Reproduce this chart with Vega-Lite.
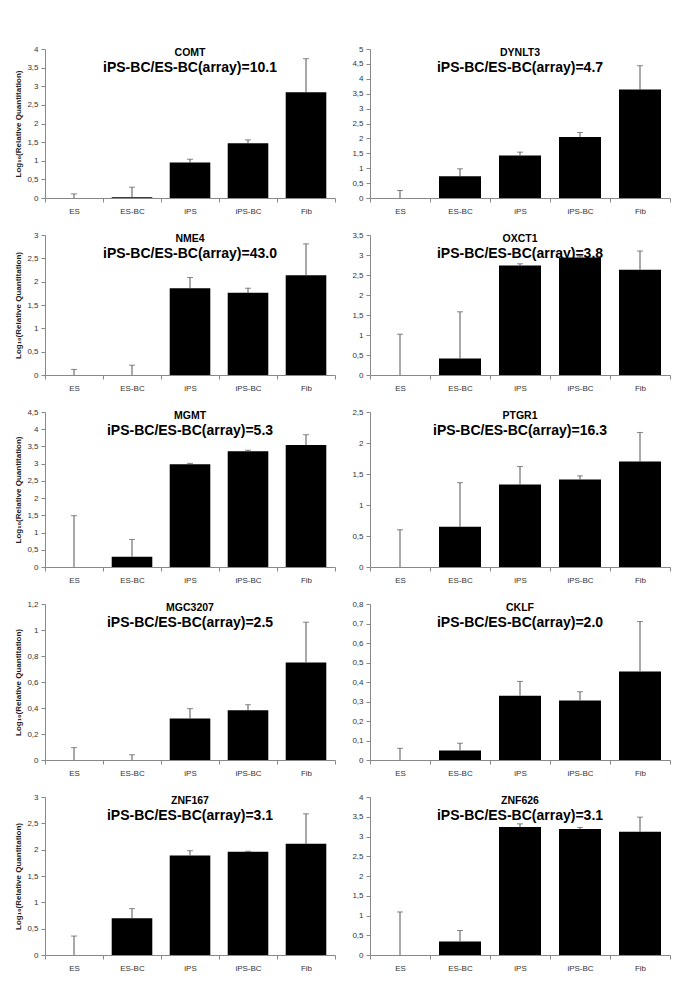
{
  "$schema": "https://vega.github.io/schema/vega-lite/v6.json",
  "padding": {"left": 14, "top": 45, "right": 5, "bottom": 5},
  "background": "white",
  "datasets": {
    "d": [
      {"gene": "COMT", "group": "ES", "value": 0, "upper": 0.11},
      {"gene": "COMT", "group": "ES-BC", "value": 0.02, "upper": 0.29},
      {"gene": "COMT", "group": "iPS", "value": 0.95, "upper": 1.04},
      {"gene": "COMT", "group": "iPS-BC", "value": 1.47, "upper": 1.56},
      {"gene": "COMT", "group": "Fib", "value": 2.84, "upper": 3.74},
      {"gene": "DYNLT3", "group": "ES", "value": 0, "upper": 0.25},
      {"gene": "DYNLT3", "group": "ES-BC", "value": 0.73, "upper": 0.98},
      {"gene": "DYNLT3", "group": "iPS", "value": 1.43, "upper": 1.54},
      {"gene": "DYNLT3", "group": "iPS-BC", "value": 2.05, "upper": 2.2},
      {"gene": "DYNLT3", "group": "Fib", "value": 3.64, "upper": 4.44},
      {"gene": "NME4", "group": "ES", "value": 0, "upper": 0.12},
      {"gene": "NME4", "group": "ES-BC", "value": 0, "upper": 0.21},
      {"gene": "NME4", "group": "iPS", "value": 1.86, "upper": 2.09},
      {"gene": "NME4", "group": "iPS-BC", "value": 1.76, "upper": 1.86},
      {"gene": "NME4", "group": "Fib", "value": 2.14, "upper": 2.81},
      {"gene": "OXCT1", "group": "ES", "value": 0, "upper": 1.02},
      {"gene": "OXCT1", "group": "ES-BC", "value": 0.41, "upper": 1.58},
      {"gene": "OXCT1", "group": "iPS", "value": 2.74, "upper": 2.78},
      {"gene": "OXCT1", "group": "iPS-BC", "value": 2.94, "upper": 2.97},
      {"gene": "OXCT1", "group": "Fib", "value": 2.63, "upper": 3.1},
      {"gene": "MGMT", "group": "ES", "value": 0, "upper": 1.49},
      {"gene": "MGMT", "group": "ES-BC", "value": 0.3, "upper": 0.8},
      {"gene": "MGMT", "group": "iPS", "value": 2.98, "upper": 3.01},
      {"gene": "MGMT", "group": "iPS-BC", "value": 3.36, "upper": 3.39},
      {"gene": "MGMT", "group": "Fib", "value": 3.54, "upper": 3.84},
      {"gene": "PTGR1", "group": "ES", "value": 0, "upper": 0.6},
      {"gene": "PTGR1", "group": "ES-BC", "value": 0.65, "upper": 1.36},
      {"gene": "PTGR1", "group": "iPS", "value": 1.33, "upper": 1.62},
      {"gene": "PTGR1", "group": "iPS-BC", "value": 1.41, "upper": 1.47},
      {"gene": "PTGR1", "group": "Fib", "value": 1.7, "upper": 2.17},
      {"gene": "MGC3207", "group": "ES", "value": 0, "upper": 0.095},
      {"gene": "MGC3207", "group": "ES-BC", "value": 0, "upper": 0.04},
      {"gene": "MGC3207", "group": "iPS", "value": 0.32, "upper": 0.395},
      {"gene": "MGC3207", "group": "iPS-BC", "value": 0.383, "upper": 0.425},
      {"gene": "MGC3207", "group": "Fib", "value": 0.75, "upper": 1.06},
      {"gene": "CKLF", "group": "ES", "value": 0, "upper": 0.06},
      {"gene": "CKLF", "group": "ES-BC", "value": 0.049, "upper": 0.086},
      {"gene": "CKLF", "group": "iPS", "value": 0.33, "upper": 0.403},
      {"gene": "CKLF", "group": "iPS-BC", "value": 0.305, "upper": 0.35},
      {"gene": "CKLF", "group": "Fib", "value": 0.454, "upper": 0.71},
      {"gene": "ZNF167", "group": "ES", "value": 0, "upper": 0.36},
      {"gene": "ZNF167", "group": "ES-BC", "value": 0.7, "upper": 0.88},
      {"gene": "ZNF167", "group": "iPS", "value": 1.89, "upper": 1.98},
      {"gene": "ZNF167", "group": "iPS-BC", "value": 1.96, "upper": 1.97},
      {"gene": "ZNF167", "group": "Fib", "value": 2.11, "upper": 2.68},
      {"gene": "ZNF626", "group": "ES", "value": 0, "upper": 1.09},
      {"gene": "ZNF626", "group": "ES-BC", "value": 0.34, "upper": 0.62},
      {"gene": "ZNF626", "group": "iPS", "value": 3.24, "upper": 3.32},
      {"gene": "ZNF626", "group": "iPS-BC", "value": 3.19, "upper": 3.23},
      {"gene": "ZNF626", "group": "Fib", "value": 3.12, "upper": 3.49}
    ]
  },
  "vconcat": [
    {"hconcat": [
      {"width": 290, "height": 149, "title": {"text": "COMT", "subtitle": "iPS-BC/ES-BC(array)=10.1"},
       "data": {"name": "d"}, "transform": [{"filter": "datum.gene === 'COMT'"}],
       "encoding": {
         "x": {"field": "group", "type": "nominal", "sort": ["ES","ES-BC","iPS","iPS-BC","Fib"], "scale": {"paddingInner": 0, "paddingOuter": 0}, "axis": {"title": null, "tickBand": "extent", "labelAngle": 0}},
         "y": {"field": "value", "type": "quantitative", "title": "Log₁₀(Relative Quantitation)", "scale": {"domain": [0, 4], "nice": false}, "axis": {"values": [0,0.5,1,1.5,2,2.5,3,3.5,4], "labelOverlap": false, "labelExpr": "replace(format(datum.value,'~g'),'.',',')"}}
       },
       "layer": [
         {"mark": {"type": "bar", "color": "black", "width": {"band": 0.7}}},
         {"mark": {"type": "rule", "color": "#555"}, "encoding": {"y2": {"field": "upper"}}},
         {"mark": {"type": "tick", "color": "#555", "size": 6, "thickness": 1}, "encoding": {"y": {"field": "upper", "type": "quantitative", "title": "Log₁₀(Relative Quantitation)", "axis": {"values": [0,0.5,1,1.5,2,2.5,3,3.5,4], "labelOverlap": false, "labelExpr": "replace(format(datum.value,'~g'),'.',',')"}}}}
       ]},
      {"width": 300, "height": 149, "title": {"text": "DYNLT3", "subtitle": "iPS-BC/ES-BC(array)=4.7"},
       "data": {"name": "d"}, "transform": [{"filter": "datum.gene === 'DYNLT3'"}],
       "encoding": {
         "x": {"field": "group", "type": "nominal", "sort": ["ES","ES-BC","iPS","iPS-BC","Fib"], "scale": {"paddingInner": 0, "paddingOuter": 0}, "axis": {"title": null, "tickBand": "extent", "labelAngle": 0}},
         "y": {"field": "value", "type": "quantitative", "title": null, "scale": {"domain": [0, 5], "nice": false}, "axis": {"values": [0,0.5,1,1.5,2,2.5,3,3.5,4,4.5,5], "labelOverlap": false, "labelExpr": "replace(format(datum.value,'~g'),'.',',')"}}
       },
       "layer": [
         {"mark": {"type": "bar", "color": "black", "width": {"band": 0.7}}},
         {"mark": {"type": "rule", "color": "#555"}, "encoding": {"y2": {"field": "upper"}}},
         {"mark": {"type": "tick", "color": "#555", "size": 6, "thickness": 1}, "encoding": {"y": {"field": "upper", "type": "quantitative", "title": null, "axis": {"values": [0,0.5,1,1.5,2,2.5,3,3.5,4,4.5,5], "labelOverlap": false, "labelExpr": "replace(format(datum.value,'~g'),'.',',')"}}}}
       ]}
    ]},
    {"hconcat": [
      {"width": 290, "height": 140, "title": {"text": "NME4", "subtitle": "iPS-BC/ES-BC(array)=43.0"},
       "data": {"name": "d"}, "transform": [{"filter": "datum.gene === 'NME4'"}],
       "encoding": {
         "x": {"field": "group", "type": "nominal", "sort": ["ES","ES-BC","iPS","iPS-BC","Fib"], "scale": {"paddingInner": 0, "paddingOuter": 0}, "axis": {"title": null, "tickBand": "extent", "labelAngle": 0}},
         "y": {"field": "value", "type": "quantitative", "title": "Log₁₀(Relative Quantitation)", "scale": {"domain": [0, 3], "nice": false}, "axis": {"values": [0,0.5,1,1.5,2,2.5,3], "labelOverlap": false, "labelExpr": "replace(format(datum.value,'~g'),'.',',')"}}
       },
       "layer": [
         {"mark": {"type": "bar", "color": "black", "width": {"band": 0.7}}},
         {"mark": {"type": "rule", "color": "#555"}, "encoding": {"y2": {"field": "upper"}}},
         {"mark": {"type": "tick", "color": "#555", "size": 6, "thickness": 1}, "encoding": {"y": {"field": "upper", "type": "quantitative", "title": "Log₁₀(Relative Quantitation)", "axis": {"values": [0,0.5,1,1.5,2,2.5,3], "labelOverlap": false, "labelExpr": "replace(format(datum.value,'~g'),'.',',')"}}}}
       ]},
      {"width": 300, "height": 140, "title": {"text": "OXCT1", "subtitle": "iPS-BC/ES-BC(array)=3.8"},
       "data": {"name": "d"}, "transform": [{"filter": "datum.gene === 'OXCT1'"}],
       "encoding": {
         "x": {"field": "group", "type": "nominal", "sort": ["ES","ES-BC","iPS","iPS-BC","Fib"], "scale": {"paddingInner": 0, "paddingOuter": 0}, "axis": {"title": null, "tickBand": "extent", "labelAngle": 0}},
         "y": {"field": "value", "type": "quantitative", "title": null, "scale": {"domain": [0, 3.5], "nice": false}, "axis": {"values": [0,0.5,1,1.5,2,2.5,3,3.5], "labelOverlap": false, "labelExpr": "replace(format(datum.value,'~g'),'.',',')"}}
       },
       "layer": [
         {"mark": {"type": "bar", "color": "black", "width": {"band": 0.7}}},
         {"mark": {"type": "rule", "color": "#555"}, "encoding": {"y2": {"field": "upper"}}},
         {"mark": {"type": "tick", "color": "#555", "size": 6, "thickness": 1}, "encoding": {"y": {"field": "upper", "type": "quantitative", "title": null, "axis": {"values": [0,0.5,1,1.5,2,2.5,3,3.5], "labelOverlap": false, "labelExpr": "replace(format(datum.value,'~g'),'.',',')"}}}}
       ]}
    ]},
    {"hconcat": [
      {"width": 290, "height": 155, "title": {"text": "MGMT", "subtitle": "iPS-BC/ES-BC(array)=5.3"},
       "data": {"name": "d"}, "transform": [{"filter": "datum.gene === 'MGMT'"}],
       "encoding": {
         "x": {"field": "group", "type": "nominal", "sort": ["ES","ES-BC","iPS","iPS-BC","Fib"], "scale": {"paddingInner": 0, "paddingOuter": 0}, "axis": {"title": null, "tickBand": "extent", "labelAngle": 0}},
         "y": {"field": "value", "type": "quantitative", "title": "Log₁₀(Relative Quantitation)", "scale": {"domain": [0, 4.5], "nice": false}, "axis": {"values": [0,0.5,1,1.5,2,2.5,3,3.5,4,4.5], "labelOverlap": false, "labelExpr": "replace(format(datum.value,'~g'),'.',',')"}}
       },
       "layer": [
         {"mark": {"type": "bar", "color": "black", "width": {"band": 0.7}}},
         {"mark": {"type": "rule", "color": "#555"}, "encoding": {"y2": {"field": "upper"}}},
         {"mark": {"type": "tick", "color": "#555", "size": 6, "thickness": 1}, "encoding": {"y": {"field": "upper", "type": "quantitative", "title": "Log₁₀(Relative Quantitation)", "axis": {"values": [0,0.5,1,1.5,2,2.5,3,3.5,4,4.5], "labelOverlap": false, "labelExpr": "replace(format(datum.value,'~g'),'.',',')"}}}}
       ]},
      {"width": 300, "height": 155, "title": {"text": "PTGR1", "subtitle": "iPS-BC/ES-BC(array)=16.3"},
       "data": {"name": "d"}, "transform": [{"filter": "datum.gene === 'PTGR1'"}],
       "encoding": {
         "x": {"field": "group", "type": "nominal", "sort": ["ES","ES-BC","iPS","iPS-BC","Fib"], "scale": {"paddingInner": 0, "paddingOuter": 0}, "axis": {"title": null, "tickBand": "extent", "labelAngle": 0}},
         "y": {"field": "value", "type": "quantitative", "title": null, "scale": {"domain": [0, 2.5], "nice": false}, "axis": {"values": [0,0.5,1,1.5,2,2.5], "labelOverlap": false, "labelExpr": "replace(format(datum.value,'~g'),'.',',')"}}
       },
       "layer": [
         {"mark": {"type": "bar", "color": "black", "width": {"band": 0.7}}},
         {"mark": {"type": "rule", "color": "#555"}, "encoding": {"y2": {"field": "upper"}}},
         {"mark": {"type": "tick", "color": "#555", "size": 6, "thickness": 1}, "encoding": {"y": {"field": "upper", "type": "quantitative", "title": null, "axis": {"values": [0,0.5,1,1.5,2,2.5], "labelOverlap": false, "labelExpr": "replace(format(datum.value,'~g'),'.',',')"}}}}
       ]}
    ]},
    {"hconcat": [
      {"width": 290, "height": 156, "title": {"text": "MGC3207", "subtitle": "iPS-BC/ES-BC(array)=2.5"},
       "data": {"name": "d"}, "transform": [{"filter": "datum.gene === 'MGC3207'"}],
       "encoding": {
         "x": {"field": "group", "type": "nominal", "sort": ["ES","ES-BC","iPS","iPS-BC","Fib"], "scale": {"paddingInner": 0, "paddingOuter": 0}, "axis": {"title": null, "tickBand": "extent", "labelAngle": 0}},
         "y": {"field": "value", "type": "quantitative", "title": "Log₁₀(Relative Quantitation)", "scale": {"domain": [0, 1.2], "nice": false}, "axis": {"values": [0,0.2,0.4,0.6,0.8,1,1.2], "labelOverlap": false, "labelExpr": "replace(format(datum.value,'~g'),'.',',')"}}
       },
       "layer": [
         {"mark": {"type": "bar", "color": "black", "width": {"band": 0.7}}},
         {"mark": {"type": "rule", "color": "#555"}, "encoding": {"y2": {"field": "upper"}}},
         {"mark": {"type": "tick", "color": "#555", "size": 6, "thickness": 1}, "encoding": {"y": {"field": "upper", "type": "quantitative", "title": "Log₁₀(Relative Quantitation)", "axis": {"values": [0,0.2,0.4,0.6,0.8,1,1.2], "labelOverlap": false, "labelExpr": "replace(format(datum.value,'~g'),'.',',')"}}}}
       ]},
      {"width": 300, "height": 156, "title": {"text": "CKLF", "subtitle": "iPS-BC/ES-BC(array)=2.0"},
       "data": {"name": "d"}, "transform": [{"filter": "datum.gene === 'CKLF'"}],
       "encoding": {
         "x": {"field": "group", "type": "nominal", "sort": ["ES","ES-BC","iPS","iPS-BC","Fib"], "scale": {"paddingInner": 0, "paddingOuter": 0}, "axis": {"title": null, "tickBand": "extent", "labelAngle": 0}},
         "y": {"field": "value", "type": "quantitative", "title": null, "scale": {"domain": [0, 0.8], "nice": false}, "axis": {"values": [0,0.1,0.2,0.3,0.4,0.5,0.6,0.7,0.8], "labelOverlap": false, "labelExpr": "replace(format(datum.value,'~g'),'.',',')"}}
       },
       "layer": [
         {"mark": {"type": "bar", "color": "black", "width": {"band": 0.7}}},
         {"mark": {"type": "rule", "color": "#555"}, "encoding": {"y2": {"field": "upper"}}},
         {"mark": {"type": "tick", "color": "#555", "size": 6, "thickness": 1}, "encoding": {"y": {"field": "upper", "type": "quantitative", "title": null, "axis": {"values": [0,0.1,0.2,0.3,0.4,0.5,0.6,0.7,0.8], "labelOverlap": false, "labelExpr": "replace(format(datum.value,'~g'),'.',',')"}}}}
       ]}
    ]},
    {"hconcat": [
      {"width": 290, "height": 158, "title": {"text": "ZNF167", "subtitle": "iPS-BC/ES-BC(array)=3.1"},
       "data": {"name": "d"}, "transform": [{"filter": "datum.gene === 'ZNF167'"}],
       "encoding": {
         "x": {"field": "group", "type": "nominal", "sort": ["ES","ES-BC","iPS","iPS-BC","Fib"], "scale": {"paddingInner": 0, "paddingOuter": 0}, "axis": {"title": null, "tickBand": "extent", "labelAngle": 0}},
         "y": {"field": "value", "type": "quantitative", "title": "Log₁₀(Relative Quantitation)", "scale": {"domain": [0, 3], "nice": false}, "axis": {"values": [0,0.5,1,1.5,2,2.5,3], "labelOverlap": false, "labelExpr": "replace(format(datum.value,'~g'),'.',',')"}}
       },
       "layer": [
         {"mark": {"type": "bar", "color": "black", "width": {"band": 0.7}}},
         {"mark": {"type": "rule", "color": "#555"}, "encoding": {"y2": {"field": "upper"}}},
         {"mark": {"type": "tick", "color": "#555", "size": 6, "thickness": 1}, "encoding": {"y": {"field": "upper", "type": "quantitative", "title": "Log₁₀(Relative Quantitation)", "axis": {"values": [0,0.5,1,1.5,2,2.5,3], "labelOverlap": false, "labelExpr": "replace(format(datum.value,'~g'),'.',',')"}}}}
       ]},
      {"width": 300, "height": 158, "title": {"text": "ZNF626", "subtitle": "iPS-BC/ES-BC(array)=3.1"},
       "data": {"name": "d"}, "transform": [{"filter": "datum.gene === 'ZNF626'"}],
       "encoding": {
         "x": {"field": "group", "type": "nominal", "sort": ["ES","ES-BC","iPS","iPS-BC","Fib"], "scale": {"paddingInner": 0, "paddingOuter": 0}, "axis": {"title": null, "tickBand": "extent", "labelAngle": 0}},
         "y": {"field": "value", "type": "quantitative", "title": null, "scale": {"domain": [0, 4], "nice": false}, "axis": {"values": [0,0.5,1,1.5,2,2.5,3,3.5,4], "labelOverlap": false, "labelExpr": "replace(format(datum.value,'~g'),'.',',')"}}
       },
       "layer": [
         {"mark": {"type": "bar", "color": "black", "width": {"band": 0.7}}},
         {"mark": {"type": "rule", "color": "#555"}, "encoding": {"y2": {"field": "upper"}}},
         {"mark": {"type": "tick", "color": "#555", "size": 6, "thickness": 1}, "encoding": {"y": {"field": "upper", "type": "quantitative", "title": null, "axis": {"values": [0,0.5,1,1.5,2,2.5,3,3.5,4], "labelOverlap": false, "labelExpr": "replace(format(datum.value,'~g'),'.',',')"}}}}
       ]}
    ]}
  ],
  "spacing": 16,
  "config": {
    "view": {"stroke": null},
    "concat": {"spacing": 15},
    "axis": {"labelFont": "Liberation Sans", "labelFontSize": 8, "labelColor": "#333", "domainColor": "#888", "tickColor": "#888", "tickSize": 4, "grid": false, "titleFont": "Liberation Sans", "titleFontSize": 8, "titleFontWeight": "bold", "titleColor": "#222"},
    "axisX": {"labelPadding": 5},
    "axisY": {"labelPadding": 3, "titlePadding": 4},
    "title": {"font": "Liberation Sans", "fontSize": 10.5, "fontWeight": "bold", "color": "black", "subtitleFont": "Liberation Sans", "subtitleFontSize": 14, "subtitleFontWeight": "bold", "subtitleColor": "black", "subtitlePadding": 3, "offset": -30, "anchor": "middle"}
  }
}
